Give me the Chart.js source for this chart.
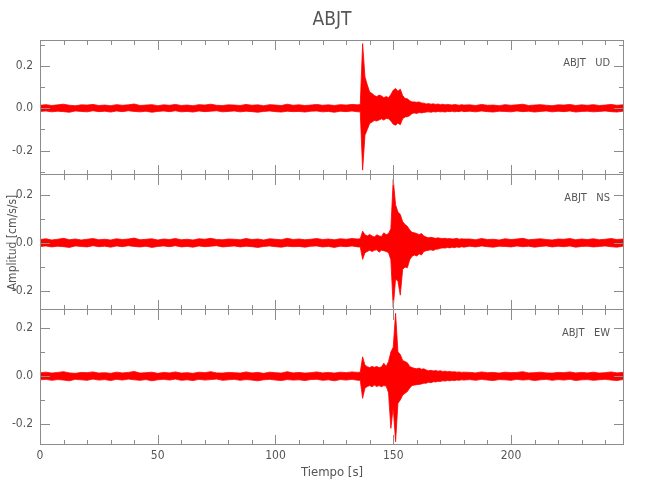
<!DOCTYPE html>
<html>
<head>
<meta charset="utf-8">
<script src="https://cdn.jsdelivr.net/npm/chart.js@4.4.1/dist/chart.umd.min.js"></script>
<style>
  body { margin: 0; background: #fff; }
  #wrap { position: relative; width: 650px; height: 500px; }
  canvas { position: absolute; left: 0; }
</style>
</head>
<body>
<div id="wrap">
  <canvas id="ud" width="650" height="175" style="top:0"></canvas>
  <canvas id="ns" width="650" height="135" style="top:175px"></canvas>
  <canvas id="ew" width="650" height="190" style="top:310px"></canvas>
</div>
<script>
// tiempo [s]: 2.5 s steps in the quiet part, 1 s steps around the event
const tiempo = [
  0, 2.5, 5, 7.5, 10, 12.5, 15, 17.5, 20, 22.5, 25,
  27.5, 30, 32.5, 35, 37.5, 40, 42.5, 45, 47.5, 50, 52.5,
  55, 57.5, 60, 62.5, 65, 67.5, 70, 72.5, 75, 77.5, 80,
  82.5, 85, 87.5, 90, 92.5, 95, 97.5, 100, 102.5, 105, 107.5,
  110, 112.5, 115, 117.5, 120, 122.5, 125, 127.5, 130, 132.5, 135,
  136, 137, 138, 139, 140, 141, 142, 143, 144,
  145, 146, 147, 148, 149, 150, 151, 152, 153,
  154, 155, 156, 157, 158, 159, 160, 161, 162,
  163, 164, 165, 166, 167, 168, 169, 170, 171,
  172, 173, 174, 175, 176, 177, 178, 179, 180,
  182.5, 185, 187.5, 190, 192.5, 195, 197.5, 200, 202.5, 205, 207.5, 210, 212.5, 215,
  217.5, 220, 222.5, 225, 227.5, 230, 232.5, 235, 237.5, 240, 242.5, 245, 247.5, 248
];

// envelopes (upper / lower) of each component, cm/s/s
const udUp = [
  0.014, 0.017, 0.013, 0.016, 0.019, 0.014, 0.012, 0.016, 0.015, 0.018, 0.013,
  0.015, 0.012, 0.017, 0.014, 0.016, 0.02, 0.013, 0.015, 0.017, 0.012, 0.016,
  0.014, 0.018, 0.013, 0.015, 0.012, 0.017, 0.015, 0.019, 0.014, 0.013, 0.016,
  0.015, 0.013, 0.018, 0.014, 0.016, 0.012, 0.017, 0.015, 0.013, 0.019, 0.014,
  0.016, 0.013, 0.015, 0.018, 0.014, 0.016, 0.013, 0.017, 0.015, 0.018, 0.016,
  0.018, 0.305, 0.148, 0.11, 0.077, 0.07, 0.06, 0.055, 0.062,
  0.058, 0.05, 0.055, 0.05, 0.065, 0.085, 0.093, 0.08, 0.09,
  0.06, 0.046, 0.045, 0.035, 0.03, 0.03, 0.028, 0.03, 0.025,
  0.024, 0.02, 0.022, 0.019, 0.021, 0.018, 0.02, 0.017, 0.019,
  0.016, 0.018, 0.017, 0.015, 0.018, 0.016, 0.014, 0.017, 0.015,
  0.016, 0.013, 0.018, 0.014, 0.015, 0.012, 0.017, 0.014, 0.016, 0.019, 0.013, 0.015, 0.017, 0.014,
  0.012, 0.016, 0.015, 0.018, 0.013, 0.016, 0.014, 0.017, 0.013, 0.015, 0.018, 0.014, 0.016, 0.015
];
const udLow = [
  -0.015, -0.013, -0.017, -0.014, -0.016, -0.019, -0.013, -0.015, -0.017, -0.012, -0.016,
  -0.014, -0.018, -0.013, -0.016, -0.012, -0.015, -0.017, -0.014, -0.019, -0.015, -0.013,
  -0.016, -0.012, -0.017, -0.015, -0.018, -0.013, -0.016, -0.014, -0.012, -0.017, -0.015,
  -0.013, -0.017, -0.014, -0.016, -0.019, -0.015, -0.013, -0.016, -0.018, -0.014, -0.016,
  -0.015, -0.018, -0.014, -0.013, -0.017, -0.015, -0.019, -0.014, -0.016, -0.013, -0.017,
  -0.017, -0.292, -0.127, -0.1, -0.072, -0.065, -0.058, -0.06, -0.055,
  -0.05, -0.056, -0.048, -0.05, -0.06, -0.075, -0.08, -0.07, -0.078,
  -0.05, -0.041, -0.04, -0.035, -0.025, -0.022, -0.025, -0.02, -0.022,
  -0.02, -0.018, -0.017, -0.019, -0.016, -0.018, -0.015, -0.017, -0.016,
  -0.018, -0.015, -0.016, -0.014, -0.017, -0.015, -0.016, -0.013, -0.016,
  -0.014, -0.017, -0.013, -0.016, -0.018, -0.014, -0.015, -0.017, -0.013, -0.016, -0.014, -0.018, -0.015, -0.013,
  -0.017, -0.014, -0.016, -0.013, -0.018, -0.015, -0.014, -0.017, -0.015, -0.013, -0.016, -0.018, -0.014, -0.016
];
const nsUp = [
  0.015, 0.018, 0.013, 0.016, 0.02, 0.014, 0.017, 0.013, 0.016, 0.019, 0.014,
  0.016, 0.013, 0.018, 0.015, 0.017, 0.021, 0.014, 0.016, 0.018, 0.013, 0.017,
  0.015, 0.019, 0.014, 0.016, 0.013, 0.018, 0.016, 0.02, 0.015, 0.014, 0.017,
  0.016, 0.014, 0.019, 0.015, 0.017, 0.013, 0.018, 0.016, 0.014, 0.02, 0.015,
  0.017, 0.014, 0.016, 0.019, 0.015, 0.017, 0.014, 0.018, 0.016, 0.019, 0.017,
  0.018, 0.05, 0.035, 0.03, 0.036, 0.03, 0.025, 0.035, 0.03,
  0.028, 0.043, 0.035, 0.04, 0.06, 0.266, 0.16, 0.13, 0.12,
  0.09, 0.078, 0.07, 0.055, 0.045, 0.043, 0.04, 0.035, 0.04,
  0.03, 0.025, 0.022, 0.024, 0.022, 0.02, 0.022, 0.02, 0.019,
  0.02, 0.018, 0.019, 0.017, 0.018, 0.02, 0.016, 0.018, 0.017,
  0.017, 0.014, 0.019, 0.015, 0.016, 0.013, 0.018, 0.015, 0.017, 0.02, 0.014, 0.016, 0.018, 0.015,
  0.013, 0.017, 0.016, 0.019, 0.014, 0.017, 0.015, 0.018, 0.014, 0.016, 0.019, 0.015, 0.017, 0.016
];
const nsLow = [
  -0.014, -0.012, -0.016, -0.013, -0.015, -0.018, -0.012, -0.014, -0.016, -0.011, -0.015,
  -0.013, -0.017, -0.012, -0.015, -0.011, -0.014, -0.016, -0.013, -0.018, -0.014, -0.012,
  -0.015, -0.011, -0.016, -0.014, -0.017, -0.012, -0.015, -0.013, -0.011, -0.016, -0.014,
  -0.012, -0.016, -0.013, -0.015, -0.018, -0.014, -0.012, -0.015, -0.017, -0.013, -0.015,
  -0.014, -0.017, -0.013, -0.012, -0.016, -0.014, -0.018, -0.013, -0.015, -0.012, -0.016,
  -0.016, -0.068, -0.04, -0.035, -0.03, -0.035, -0.03, -0.028, -0.038,
  -0.03, -0.032, -0.035, -0.04, -0.07, -0.27, -0.15, -0.16, -0.218,
  -0.11, -0.1, -0.103, -0.07, -0.055, -0.05, -0.054, -0.045, -0.05,
  -0.035, -0.032, -0.03, -0.028, -0.031, -0.026, -0.025, -0.022, -0.02,
  -0.021, -0.018, -0.02, -0.017, -0.019, -0.016, -0.018, -0.015, -0.017,
  -0.013, -0.016, -0.012, -0.015, -0.017, -0.013, -0.014, -0.016, -0.012, -0.015, -0.013, -0.017, -0.014, -0.012,
  -0.016, -0.013, -0.015, -0.012, -0.017, -0.014, -0.013, -0.016, -0.014, -0.012, -0.015, -0.017, -0.013, -0.015
];
const ewUp = [
  0.013, 0.016, 0.012, 0.015, 0.018, 0.013, 0.011, 0.015, 0.014, 0.017, 0.012,
  0.014, 0.011, 0.016, 0.013, 0.015, 0.019, 0.012, 0.014, 0.016, 0.011, 0.015,
  0.013, 0.017, 0.012, 0.014, 0.011, 0.016, 0.014, 0.018, 0.013, 0.012, 0.015,
  0.014, 0.012, 0.017, 0.013, 0.015, 0.011, 0.016, 0.014, 0.012, 0.018, 0.013,
  0.015, 0.012, 0.014, 0.017, 0.013, 0.015, 0.012, 0.016, 0.014, 0.017, 0.015,
  0.016, 0.08, 0.045, 0.039, 0.035, 0.04, 0.036, 0.04, 0.035,
  0.038, 0.053, 0.04, 0.06, 0.1, 0.12, 0.261, 0.1, 0.09,
  0.065, 0.06, 0.055, 0.04, 0.035, 0.032, 0.03, 0.033, 0.028,
  0.03, 0.025, 0.022, 0.024, 0.021, 0.023, 0.02, 0.022, 0.019,
  0.02, 0.018, 0.019, 0.017, 0.018, 0.016, 0.017, 0.015, 0.016,
  0.015, 0.013, 0.017, 0.014, 0.015, 0.012, 0.016, 0.014, 0.015, 0.018, 0.013, 0.014, 0.016, 0.013,
  0.012, 0.015, 0.014, 0.017, 0.013, 0.015, 0.013, 0.016, 0.012, 0.014, 0.017, 0.013, 0.015, 0.014
];
const ewLow = [
  -0.016, -0.014, -0.018, -0.015, -0.017, -0.02, -0.014, -0.016, -0.018, -0.013, -0.017,
  -0.015, -0.019, -0.014, -0.017, -0.013, -0.016, -0.018, -0.015, -0.02, -0.016, -0.014,
  -0.017, -0.013, -0.018, -0.016, -0.019, -0.014, -0.017, -0.015, -0.013, -0.018, -0.016,
  -0.014, -0.018, -0.015, -0.017, -0.02, -0.016, -0.014, -0.017, -0.019, -0.015, -0.017,
  -0.016, -0.019, -0.015, -0.014, -0.018, -0.016, -0.02, -0.015, -0.017, -0.014, -0.018,
  -0.018, -0.093, -0.05, -0.044, -0.04, -0.045, -0.038, -0.044, -0.04,
  -0.045, -0.04, -0.042, -0.07, -0.218, -0.13, -0.274, -0.114, -0.1,
  -0.08, -0.072, -0.065, -0.05, -0.04, -0.038, -0.036, -0.035, -0.033,
  -0.03, -0.03, -0.026, -0.028, -0.024, -0.025, -0.022, -0.023, -0.02,
  -0.021, -0.019, -0.02, -0.018, -0.019, -0.017, -0.018, -0.016, -0.017,
  -0.015, -0.018, -0.014, -0.017, -0.019, -0.015, -0.016, -0.018, -0.014, -0.017, -0.015, -0.019, -0.016, -0.014,
  -0.018, -0.015, -0.017, -0.014, -0.019, -0.016, -0.015, -0.018, -0.016, -0.014, -0.017, -0.019, -0.015, -0.017
];

const estacion = "ABJT";
const xMax = 248;

const FONT = "'DejaVu Sans Condensed', 'Liberation Sans Narrow', 'Open Sans', 'DejaVu Sans', sans-serif";
const WEIGHT = "300 condensed";
const TEXT = "#555555";
const AXIS = "#8c8c8c";
const RED = "#ff0000";

Chart.defaults.font.family = FONT;
Chart.defaults.font.weight = WEIGHT;
Chart.defaults.color = TEXT;

function noPad(s) {
  s.paddingTop = 0;
  s.paddingBottom = 0;
  s.paddingLeft = 0;
  s.paddingRight = 0;
}

// box around each panel with inward tick marks on all four sides
const frame = {
  id: "frame",
  afterDraw(chart, args, opts) {
    const { ctx, chartArea: a, scales } = chart;
    const x = scales.x, y = scales.y;
    ctx.save();
    ctx.strokeStyle = AXIS;
    ctx.lineWidth = 1;
    ctx.beginPath();
    const L = a.left + 0.5, R = a.right - 0.5, T = a.top + 0.5, B = a.bottom - 0.5;
    if (opts.top) { ctx.moveTo(L, T); ctx.lineTo(R, T); }
    ctx.moveTo(L, B); ctx.lineTo(R, B);
    ctx.moveTo(L, a.top); ctx.lineTo(L, a.bottom);
    ctx.moveTo(R, a.top); ctx.lineTo(R, a.bottom);
    for (let v = 0; v <= xMax; v += 10) {
      const px = Math.round(x.getPixelForValue(v)) + 0.5;
      const len = v % 50 === 0 ? 10 : 5;
      ctx.moveTo(px, a.top); ctx.lineTo(px, a.top + len);
      ctx.moveTo(px, a.bottom); ctx.lineTo(px, a.bottom - len);
    }
    y.ticks.forEach(t => {
      const py = Math.round(y.getPixelForValue(t.value)) + 0.5;
      const len = Math.round(t.value * 10) % 2 === 0 ? 10 : 5;
      ctx.moveTo(a.left, py); ctx.lineTo(a.left + len, py);
      ctx.moveTo(a.right, py); ctx.lineTo(a.right - len, py);
    });
    ctx.stroke();
    ctx.fillStyle = TEXT;
    ctx.font = WEIGHT + " 11px " + FONT;
    ctx.textAlign = "right";
    ctx.textBaseline = "middle";
    ctx.fillText(estacion + "   " + opts.comp, a.right - 14, a.top + 23);
    ctx.restore();
  }
};

function makePanel(id, up, low, yMin, yMax, comp, extra) {
  const yAxis = {
    type: "linear",
    min: yMin,
    max: yMax,
    ticks: {
      stepSize: 0.1,
      includeBounds: false,
      padding: 7,
      font: { size: 12 },
      callback: v => (Math.round(v * 10) % 2 === 0 ? v.toFixed(1) : "")
    },
    grid: { display: false, drawTicks: false },
    border: { display: false },
    afterFit: s => { s.width = 40; noPad(s); }
  };
  const xAxis = {
    type: "linear",
    min: 0,
    max: xMax,
    ticks: { display: false, stepSize: 10 },
    grid: { display: false, drawTicks: false },
    border: { display: false },
    afterFit: s => { s.height = 0; noPad(s); }
  };
  if (extra.xLabels) {
    xAxis.ticks = {
      display: true,
      stepSize: 10,
      includeBounds: false,
      autoSkip: false,
      maxRotation: 0,
      padding: 4,
      font: { size: 12 },
      callback: v => (v % 50 === 0 ? String(v) : "")
    };
    xAxis.title = {
      display: true,
      text: "Tiempo [s]",
      font: { size: 13 },
      padding: { top: 0, bottom: 20 }
    };
    xAxis.afterFit = s => { s.height = 55; noPad(s); };
  }
  if (extra.yTitle) {
    yAxis.title = {
      display: true,
      text: "Amplitud [cm/s/s]",
      font: { size: 12 },
      padding: { top: 6, bottom: 0 }
    };
  }

  return new Chart(document.getElementById(id), {
    type: "line",
    data: {
      datasets: [
        {
          data: tiempo.map((t, i) => ({ x: t, y: up[i] })),
          borderColor: RED,
          backgroundColor: RED,
          borderWidth: 0.8,
          pointRadius: 0,
          fill: "+1"
        },
        {
          data: tiempo.map((t, i) => ({ x: t, y: low[i] })),
          borderColor: RED,
          backgroundColor: RED,
          borderWidth: 0.8,
          pointRadius: 0,
          fill: false
        }
      ]
    },
    options: {
      responsive: false,
      animation: false,
      devicePixelRatio: 1,
      layout: { autoPadding: false, padding: { left: 0, right: 26, top: 0, bottom: 0 } },
      plugins: {
        legend: { display: false },
        tooltip: { enabled: false },
        title: extra.title
          ? {
              display: true,
              text: estacion,
              fullSize: false,
              font: { size: 19, weight: WEIGHT },
              color: TEXT,
              padding: { top: 8.6, bottom: 8.6 }
            }
          : { display: false },
        frame: { top: !!extra.top, comp: comp }
      },
      scales: { x: xAxis, y: yAxis }
    },
    plugins: [frame]
  });
}

makePanel("ud", udUp, udLow, -0.315, 0.322, "UD", { title: true, top: true });
makePanel("ns", nsUp, nsLow, -0.28, 0.285, "NS", { yTitle: true });
makePanel("ew", ewUp, ewLow, -0.2875, 0.275, "EW", { xLabels: true });
</script>
</body>
</html>
